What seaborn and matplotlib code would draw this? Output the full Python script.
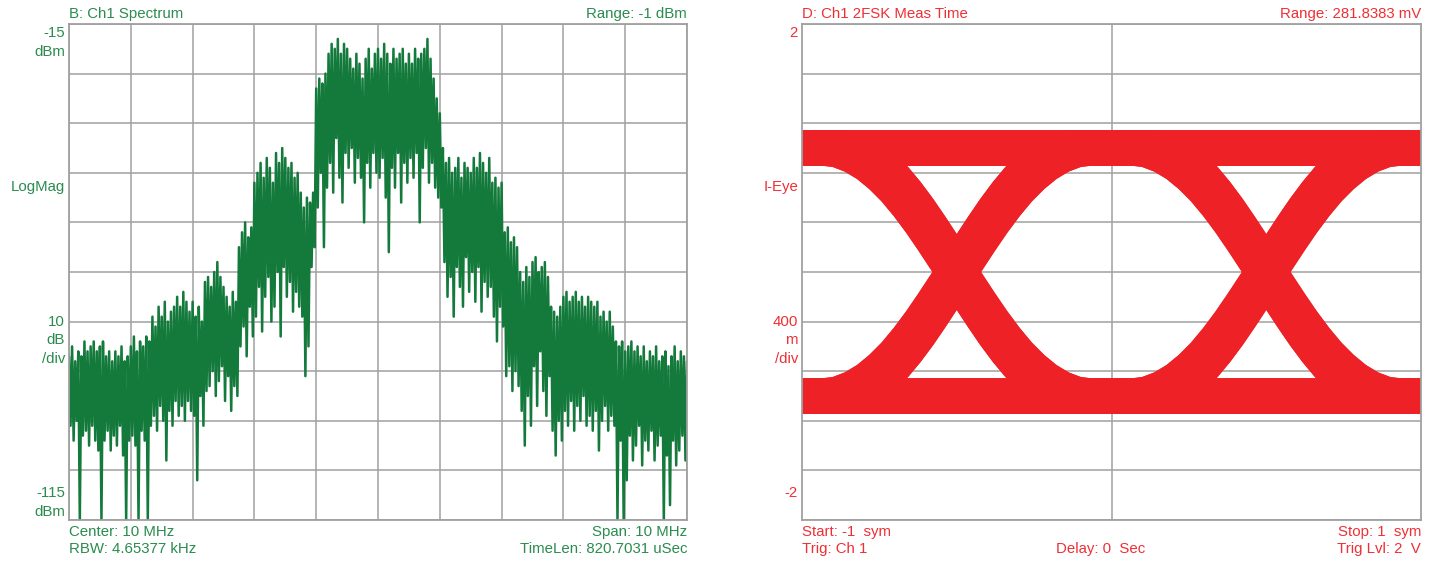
import numpy as np
import pandas as pd
import matplotlib
matplotlib.use("Agg")
import matplotlib.pyplot as plt
import seaborn as sns

sns.set_theme(style="white")
plt.rcParams['font.family'] = ['Liberation Sans', 'DejaVu Sans']

# ---------------- data: spectrum (panel B) ----------------
SPEC_FREQ_START_MHZ = 5.0
SPEC_FREQ_STEP_MHZ = 0.05
# top of the noisy trace (dBm) every 0.05 MHz
SPEC_UPPER_DBM = [
    -82, -80, -83, -81, -82, -79, -81, -80, -79, -81,
    -80, -79, -82, -81, -83, -81, -82, -80, -83, -82,
    -80, -78, -81, -79, -80, -78, -79, -74, -76, -72,
    -74, -71, -75, -73, -72, -70, -72, -69, -71, -73,
    -71, -74, -72, -75, -67, -66, -68, -65, -63, -66,
    -68, -70, -72, -69, -71, -60, -57, -55, -58, -56,
    -47, -45, -43, -46, -42, -44, -47, -41, -43, -40,
    -42, -44, -43, -46, -45, -49, -52, -50, -51, -49,
    -28, -26, -27, -25, -21, -19, -20, -18, -21, -19,
    -20, -22, -24, -21, -23, -26, -22, -20, -24, -21,
    -20, -22, -19, -21, -23, -20, -22, -21, -20, -23,
    -21, -23, -20, -22, -21, -20, -18, -22, -26, -30,
    -33, -40, -43, -42, -45, -44, -42, -46, -43, -44,
    -45, -42, -44, -41, -43, -45, -42, -47, -46, -48,
    -47, -57, -56, -59, -58, -60, -65, -67, -64, -66,
    -63, -62, -65, -64, -63, -66, -72, -73, -74, -72,
    -70, -69, -71, -70, -69, -71, -70, -72, -70, -71,
    -72, -71, -74, -73, -75, -73, -76, -79, -80, -79,
    -81, -80, -79, -81, -80, -82, -80, -83, -81, -82,
    -80, -83, -82, -81, -84, -82, -80, -83, -81, -82, -83,
]
# bottom of the noisy trace (dBm), including the deep drop-outs
SPEC_LOWER_DBM = [
    -96, -99, -95, -115, -98, -97, -100, -96, -99, -101,
    -115, -99, -97, -101, -98, -100, -96, -102, -115, -99,
    -98, -100, -115, -97, -99, -115, -96, -94, -97, -92,
    -95, -103, -93, -96, -91, -94, -92, -95, -91, -93,
    -94, -107, -90, -96, -89, -88, -85, -90, -87, -84,
    -91, -86, -93, -88, -90, -80, -76, -82, -72, -78,
    -74, -68, -77, -70, -66, -75, -72, -65, -78, -64,
    -70, -67, -73, -69, -72, -74, -86, -80, -64, -60,
    -52, -45, -60, -48, -43, -49, -38, -46, -51, -41,
    -44, -40, -47, -42, -46, -55, -43, -48, -41, -45,
    -46, -42, -50, -61, -44, -48, -41, -51, -43, -47,
    -42, -46, -41, -55, -44, -40, -47, -43, -48, -50,
    -52, -63, -70, -66, -74, -64, -68, -72, -62, -69,
    -65, -71, -64, -73, -67, -70, -68, -74, -79, -72,
    -76, -86, -84, -89, -85, -88, -93, -100, -90, -96,
    -84, -92, -81, -89, -94, -86, -97, -102, -95, -99,
    -93, -96, -91, -97, -92, -95, -90, -96, -94, -97,
    -93, -101, -95, -92, -97, -94, -96, -115, -99, -115,
    -107, -98, -103, -100, -96, -104, -99, -101, -97, -103,
    -100, -98, -115, -102, -112, -99, -104, -101, -98, -103, -115,
]

# ---------------- data: 2FSK eye (panel D) ----------------
EYE_SYMBOL_PATTERNS = [(1, 1, 1), (1, 1, -1), (1, -1, 1), (1, -1, -1),
                       (-1, 1, 1), (-1, 1, -1), (-1, -1, 1), (-1, -1, -1)]
EYE_SYMBOL_BOUNDARIES = [-0.5, 0.5]
EYE_LEVEL_OFFSETS = [-0.13, -0.11, -0.09, -0.07, -0.05, -0.03, -0.01,
                     0.01, 0.03, 0.05, 0.07, 0.09, 0.11, 0.13]
EYE_TIMING_JITTER = [-0.04, -0.02, 0.0, 0.02, 0.04]
# symbol transition shape read from the eye (time from boundary, fraction done)
EYE_TRANS_DT = [-0.40, -0.36, -0.32, -0.28, -0.24, -0.20, -0.16, -0.12, -0.08, -0.04,
                0.0, 0.04, 0.08, 0.12, 0.16, 0.20, 0.24, 0.28, 0.32, 0.36, 0.40]
EYE_TRANS_FRAC = [0.0, 0.006, 0.025, 0.055, 0.096, 0.146, 0.206, 0.273, 0.346, 0.422,
                  0.5, 0.578, 0.654, 0.727, 0.794, 0.854, 0.904, 0.945, 0.975, 0.994, 1.0]

# ---------------- styling ----------------
W, H = 1436, 564
GREEN = '#137A3B'
GREEN_TXT = '#2A8C4E'
RED = '#EE2226'
RED_TXT = '#EE3035'
GRID = '#A0A0A0'
FS = 10.8

fig = plt.figure(figsize=(W / 100, H / 100), dpi=100)
fig.patch.set_facecolor('white')


def px_axes(x0, x1, y0, y1):
    return fig.add_axes([x0 / W, 1 - y1 / H, (x1 - x0) / W, (y1 - y0) / H])


def style_axes(ax):
    ax.set_facecolor('white')
    ax.set_axisbelow(True)
    ax.tick_params(length=0, labelbottom=False, labelleft=False)
    ax.grid(True, color=GRID, lw=1.1)
    for s in ax.spines.values():
        s.set_color(GRID)
        s.set_linewidth(1.3)
        s.set_visible(True)
    ax.set_xlabel('')
    ax.set_ylabel('')


def txt(x, y, s, ha, color):
    fig.text(x / W, 1 - y / H, s, ha=ha, va='center', color=color, fontsize=FS)


# ---- spectrum panel ----
axL = px_axes(69, 687, 24, 520)
freq = SPEC_FREQ_START_MHZ + SPEC_FREQ_STEP_MHZ * np.arange(len(SPEC_UPPER_DBM))
fz = np.empty(2 * len(freq))
vz = np.empty(2 * len(freq))
fz[0::2] = freq
fz[1::2] = freq + SPEC_FREQ_STEP_MHZ / 2
vz[0::2] = SPEC_UPPER_DBM
vz[1::2] = SPEC_LOWER_DBM
sns.lineplot(x=fz, y=vz, ax=axL, sort=False, estimator=None, color=GREEN, lw=1.8)
axL.set_xlim(5, 15)
axL.set_ylim(-115, -15)
axL.set_xticks(np.arange(5, 15.01, 1))
axL.set_yticks(np.arange(-115, -14, 10))
style_axes(axL)

# ---- eye panel ----
axR = px_axes(802, 1421, 24, 520)
rows = []
tid = 0
for (a, b, c) in EYE_SYMBOL_PATTERNS:
    for j in EYE_TIMING_JITTER:
        for o in EYE_LEVEL_OFFSETS:
            ts = [-1.0]
            vs = [a + o]
            for (s0, s1), tb in zip([(a, b), (b, c)], EYE_SYMBOL_BOUNDARIES):
                for dt, fr in zip(EYE_TRANS_DT, EYE_TRANS_FRAC):
                    ts.append(tb + j + dt)
                    vs.append(s0 + (s1 - s0) * fr + o)
            ts.append(1.0)
            vs.append(c + o)
            rows.append(pd.DataFrame({'t': ts, 'v': vs, 'trace': tid}))
            tid += 1
eye = pd.concat(rows, ignore_index=True)
sns.lineplot(data=eye, x='t', y='v', units='trace', estimator=None, sort=False,
             color=RED, lw=2.0, ax=axR, legend=False)
axR.set_xlim(-1, 1)
axR.set_ylim(-2, 2)
axR.set_xticks([0])
axR.set_yticks(np.arange(-2, 2.01, 0.4))
style_axes(axR)

# ---- texts: spectrum ----
txt(69, 14, 'B: Ch1 Spectrum', 'left', GREEN_TXT)
txt(687, 14, 'Range: -1 dBm', 'right', GREEN_TXT)
txt(65, 33, '-15', 'right', GREEN_TXT)
txt(65, 52, 'dBm', 'right', GREEN_TXT)
txt(65, 187, 'LogMag', 'right', GREEN_TXT)
txt(65, 322, '10', 'right', GREEN_TXT)
txt(65, 340, 'dB', 'right', GREEN_TXT)
txt(65, 359, '/div', 'right', GREEN_TXT)
txt(65, 493, '-115', 'right', GREEN_TXT)
txt(65, 512, 'dBm', 'right', GREEN_TXT)
txt(69, 532, 'Center: 10 MHz', 'left', GREEN_TXT)
txt(69, 549, 'RBW: 4.65377 kHz', 'left', GREEN_TXT)
txt(687, 532, 'Span: 10 MHz', 'right', GREEN_TXT)
txt(687, 549, 'TimeLen: 820.7031 uSec', 'right', GREEN_TXT)

# ---- texts: eye ----
txt(802, 14, 'D: Ch1 2FSK Meas Time', 'left', RED_TXT)
txt(1421, 14, 'Range: 281.8383 mV', 'right', RED_TXT)
txt(798, 33, '2', 'right', RED_TXT)
txt(798, 187, 'I-Eye', 'right', RED_TXT)
txt(798, 322, '400', 'right', RED_TXT)
txt(798, 340, 'm', 'right', RED_TXT)
txt(798, 359, '/div', 'right', RED_TXT)
txt(798, 493, '-2', 'right', RED_TXT)
txt(802, 532, 'Start: -1  sym', 'left', RED_TXT)
txt(802, 549, 'Trig: Ch 1', 'left', RED_TXT)
txt(1056, 549, 'Delay: 0  Sec', 'left', RED_TXT)
txt(1421, 532, 'Stop: 1  sym', 'right', RED_TXT)
txt(1421, 549, 'Trig Lvl: 2  V', 'right', RED_TXT)

fig.savefig('out.png', dpi=100, facecolor='white')
